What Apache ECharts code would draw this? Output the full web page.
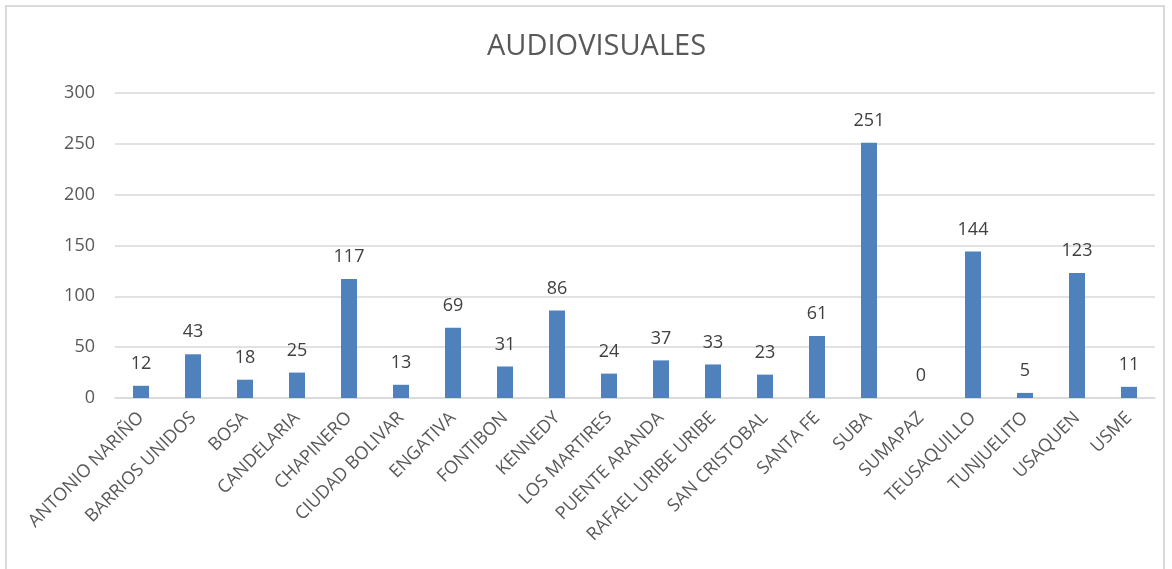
<!DOCTYPE html>
<html><head><meta charset="utf-8">
<script src="https://cdn.jsdelivr.net/npm/echarts@6/dist/echarts.min.js"></script>
<style>
html,body{margin:0;padding:0;background:#fff;}
#frame{position:absolute;left:5px;top:5px;width:1160px;height:580px;border:2px solid #d9d9d9;box-sizing:border-box;}
#c{position:absolute;left:0;top:0;width:1172px;height:569px;}
</style></head>
<body><div id="frame"></div><div id="c"></div>
<script>
const categories = ["ANTONIO NARIÑO","BARRIOS UNIDOS","BOSA","CANDELARIA","CHAPINERO","CIUDAD BOLIVAR","ENGATIVA","FONTIBON","KENNEDY","LOS MARTIRES","PUENTE ARANDA","RAFAEL URIBE URIBE","SAN CRISTOBAL","SANTA FE","SUBA","SUMAPAZ","TEUSAQUILLO","TUNJUELITO","USAQUEN","USME"];
const values = [12,43,18,25,117,13,69,31,86,24,37,33,23,61,251,0,144,5,123,11];
const title = "AUDIOVISUALES";
const font = "'Open Sans', 'Liberation Sans', sans-serif";
const chart = echarts.init(document.getElementById('c'), null, {renderer:'canvas'});
chart.setOption({
  animation:false,
  title:{text:title,left:482,top:27,textStyle:{fontFamily:font,fontSize:29,fontWeight:'normal',color:'#595959'}},
  grid:{left:115,right:17,top:93,bottom:171,containLabel:false},
  xAxis:{type:'category',data:categories,
    axisLine:{lineStyle:{color:'#d9d9d9',width:1.5}},axisTick:{show:false},
    axisLabel:{rotate:45,interval:0,margin:17,fontFamily:font,fontSize:18,color:'#595959'}},
  yAxis:{type:'value',min:0,max:300,interval:50,
    axisLine:{show:false},axisTick:{show:false},
    splitLine:{lineStyle:{color:'#d9d9d9',width:1.5}},
    axisLabel:{margin:20,fontFamily:font,fontSize:18,color:'#595959'}},
  series:[{type:'bar',data:values,barWidth:16,
    itemStyle:{color:'#4f81bd'},
    label:{show:true,position:'top',distance:13,fontFamily:font,fontSize:18,color:'#404040'}}]
});
</script></body></html>
